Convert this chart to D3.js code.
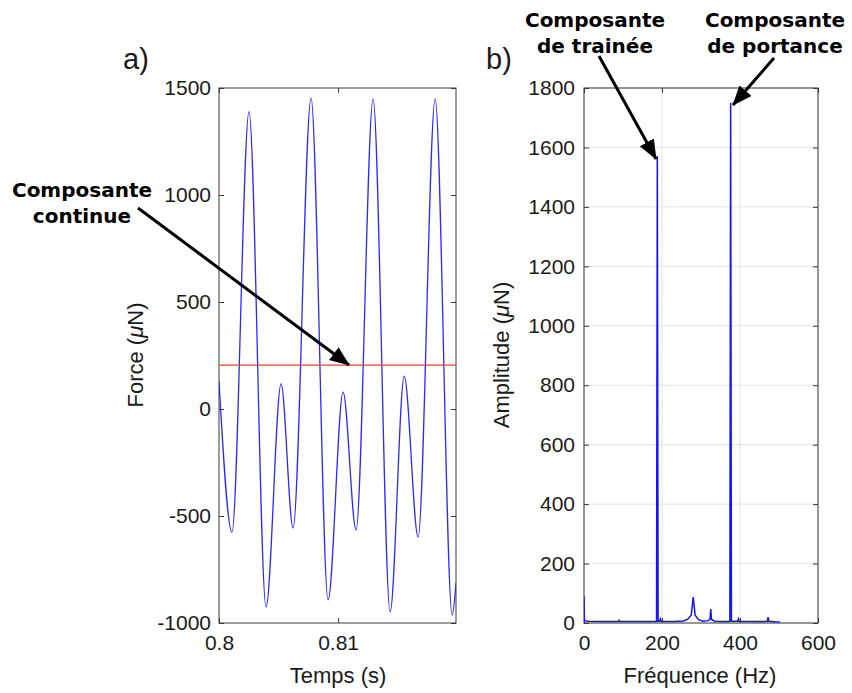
<!DOCTYPE html>
<html><head><meta charset="utf-8">
<script src="https://cdn.jsdelivr.net/npm/d3@7"></script>
<style>body{margin:0;background:#fff} svg{display:block}</style>
</head><body>
<svg id="chart" width="852" height="693"></svg>
<script>
// ---- Panel a) : force signal (extrema read from the picture) ----
const timeS   = [0.8, 0.80109, 0.80252, 0.80395, 0.80521, 0.80622, 0.80773, 0.80916, 0.81042, 0.81151, 0.81294, 0.81437, 0.81555, 0.81672, 0.81815, 0.81958, 0.8199];
const forceUN = [130, -575, 1390, -925, 117, -556, 1453, -892, 79, -565, 1448, -948, 154, -598, 1448, -963, -813];
const meanForce = 205;
const timeTicks = [0.8, 0.81];
const forceTicks = [-1000, -500, 0, 500, 1000, 1500];

// ---- Panel b) : amplitude spectrum ----
const freqHz      = [0, 1, 10, 50, 88, 90, 92, 120, 150, 180, 186, 188, 190, 194, 196, 198, 230, 255, 266, 275, 280, 285, 294, 305, 318, 323, 325, 327, 335, 360, 374, 376, 378, 394, 396, 398, 430, 462, 470, 472, 474, 490, 502];
const amplitudeUN = [90, 8, 6, 5, 5, 9, 5, 5, 5, 5, 6, 1570, 6, 6, 14, 6, 5, 7, 13, 26, 87, 26, 11, 6, 8, 12, 47, 12, 6, 5, 6, 1750, 6, 6, 14, 6, 5, 5, 6, 20, 6, 4, 3];
const freqTicks = [0, 200, 400, 600];
const ampTicks = [0, 200, 400, 600, 800, 1000, 1200, 1400, 1600, 1800];

const svg = d3.select("#chart");
svg.append("rect").attr("width", 852).attr("height", 693).attr("fill", "#fff");
const FONT = "'Liberation Sans', Arial, Helvetica, sans-serif";
const BOLD = "'DejaVu Sans', Verdana, sans-serif";
const BOX = "#3a3a3a";
const plain = d => String(d);

function styleAxis(g, labels) {
  g.select(".domain").remove();
  g.selectAll("line").attr("stroke", BOX);
  g.selectAll("text").attr("font-family", FONT).attr("font-size", 21).attr("fill", "#1a1a1a");
  if (!labels) g.selectAll("text").remove();
}

function panel(o) {
  const [x0, x1] = o.x.range(), [y0, y1] = o.y.range(); // y0 bottom, y1 top
  const g = svg.append("g");
  if (o.grid) {
    g.append("g").selectAll("line").data(o.xTicks).join("line")
      .attr("x1", d => o.x(d)).attr("x2", d => o.x(d)).attr("y1", y1).attr("y2", y0)
      .attr("stroke", "#e3e3e3").attr("stroke-width", 1);
    g.append("g").selectAll("line").data(o.yTicks).join("line")
      .attr("y1", d => o.y(d)).attr("y2", d => o.y(d)).attr("x1", x0).attr("x2", x1)
      .attr("stroke", "#e3e3e3").attr("stroke-width", 1);
  }
  g.append("g").attr("transform", `translate(0,${y0})`)
    .call(d3.axisBottom(o.x).tickValues(o.xTicks).tickSizeInner(-5).tickSizeOuter(0).tickPadding(12).tickFormat(plain))
    .call(s => styleAxis(s, true));
  g.append("g").attr("transform", `translate(0,${y1})`)
    .call(d3.axisTop(o.x).tickValues(o.xTicks).tickSizeInner(-5).tickSizeOuter(0))
    .call(s => styleAxis(s, false));
  g.append("g").attr("transform", `translate(${x0},0)`)
    .call(d3.axisLeft(o.y).tickValues(o.yTicks).tickSizeInner(-5).tickSizeOuter(0).tickPadding(o.yPad).tickFormat(plain))
    .call(s => styleAxis(s, true));
  g.append("g").attr("transform", `translate(${x1},0)`)
    .call(d3.axisRight(o.y).tickValues(o.yTicks).tickSizeInner(-5).tickSizeOuter(0))
    .call(s => styleAxis(s, false));
  g.append("rect").attr("x", x0).attr("y", y1).attr("width", x1 - x0).attr("height", y0 - y1)
    .attr("fill", "none").attr("stroke", BOX).attr("stroke-width", 1);
  const id = "clip" + o.name;
  svg.append("clipPath").attr("id", id).append("rect")
    .attr("x", x0).attr("y", y1).attr("width", x1 - x0).attr("height", y0 - y1);
  return {g, clip: `url(#${id})`};
}

// Panel a
const xT = d3.scaleLinear().domain([0.8, 0.8199]).range([219, 456]);
const yF = d3.scaleLinear().domain([-1000, 1500]).range([623, 88]);
const pa = panel({name: "a", x: xT, y: yF, xTicks: timeTicks, yTicks: forceTicks, yPad: 8, grid: false});
pa.g.append("path")
  .datum(d3.range(timeS.length))
  .attr("clip-path", pa.clip)
  .attr("fill", "none").attr("stroke", "#2a2aff").attr("stroke-width", 1.3)
  .attr("d", d3.line().x(i => xT(timeS[i])).y(i => yF(forceUN[i])).curve(d3.curveMonotoneX));
pa.g.append("line").attr("x1", xT.range()[0]).attr("x2", xT.range()[1])
  .attr("y1", yF(meanForce)).attr("y2", yF(meanForce))
  .attr("stroke", "#ff3b3b").attr("stroke-width", 1.3);

// Panel b
const xF = d3.scaleLinear().domain([0, 600]).range([584, 818]);
const yA = d3.scaleLinear().domain([0, 1800]).range([623, 88]);
const pb = panel({name: "b", x: xF, y: yA, xTicks: freqTicks, yTicks: ampTicks, yPad: 9, grid: true});
pb.g.append("path")
  .datum(d3.range(freqHz.length))
  .attr("clip-path", pb.clip)
  .attr("fill", "none").attr("stroke", "#1414f0").attr("stroke-width", 1.5)
  .attr("d", d3.line().x(i => xF(freqHz[i])).y(i => yA(amplitudeUN[i])));

// Axis titles
function label(x, y, rot, parts, size) {
  const t = svg.append("text").attr("transform", `translate(${x},${y}) rotate(${rot})`)
    .attr("text-anchor", "middle").attr("font-family", FONT).attr("font-size", size).attr("fill", "#1a1a1a");
  parts.forEach(p => t.append("tspan").text(p[0]).attr("font-style", p[1] ? "italic" : null));
}
label(338, 683, 0, [["Temps (s)"]], 22);
label(700, 683, 0, [["Fréquence (Hz)"]], 22);
label(143, 355, -90, [["Force ("], ["μ", true], ["N)"]], 22);
label(509, 355, -90, [["Amplitude ("], ["μ", true], ["N)"]], 22);

// Panel letters
svg.append("text").attr("x", 123).attr("y", 69).attr("font-family", FONT).attr("font-size", 29).attr("fill", "#1a1a1a").text("a)");
svg.append("text").attr("x", 486).attr("y", 69).attr("font-family", FONT).attr("font-size", 29).attr("fill", "#1a1a1a").text("b)");

// Annotations
const defs = svg.append("defs");
defs.append("marker").attr("id", "head").attr("markerUnits", "userSpaceOnUse")
  .attr("markerWidth", 22).attr("markerHeight", 18).attr("refX", 19).attr("refY", 8)
  .attr("orient", "auto")
  .append("path").attr("d", "M0,0 L20,8 L0,16 Z").attr("fill", "#000");
function note(cx, y, lines) {
  const t = svg.append("text").attr("font-family", BOLD).attr("font-weight", "bold")
    .attr("font-size", 20).attr("text-anchor", "middle").attr("fill", "#000");
  lines.forEach((l, i) => t.append("tspan").attr("x", cx).attr("y", y + i * 25.5).text(l));
}
function arrow(x1, y1, x2, y2) {
  svg.append("line").attr("x1", x1).attr("y1", y1).attr("x2", x2).attr("y2", y2)
    .attr("stroke", "#000").attr("stroke-width", 3).attr("marker-end", "url(#head)");
}
note(82, 197, ["Composante", "continue"]);
note(595, 27, ["Composante", "de trainée"]);
note(775, 27, ["Composante", "de portance"]);
arrow(138, 208, 349, 365);
arrow(599, 56, 656, 159);
arrow(774, 58, 733, 105);
</script>
</body></html>
